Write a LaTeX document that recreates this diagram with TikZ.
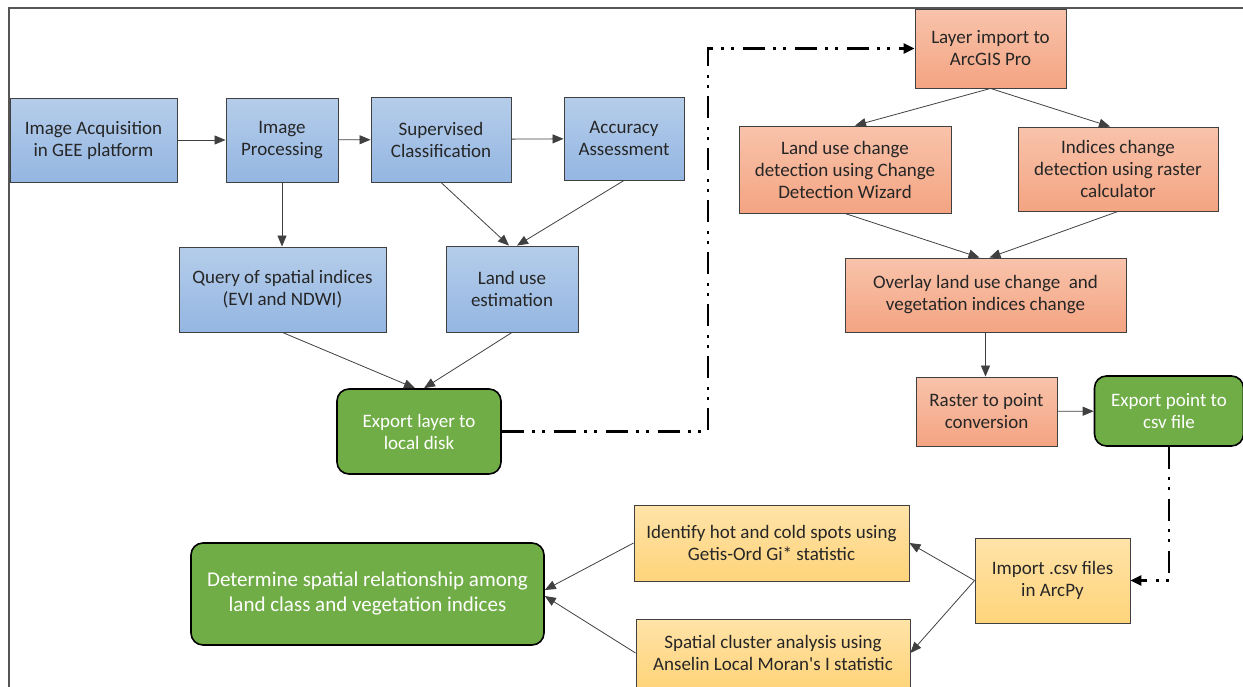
\documentclass[tikz,border=0pt]{standalone}
\usepackage{fontspec}
\setmainfont{Carlito}
\usepackage{xcolor}
\usepackage{tikz}
\usetikzlibrary{arrows.meta,positioning,calc}
\definecolor{bluetop}{HTML}{B5CDEA}
\definecolor{bluebot}{HTML}{94B6E2}
\definecolor{saltop}{HTML}{F8C3AB}
\definecolor{salbot}{HTML}{F4A482}
\definecolor{yeltop}{HTML}{FFE3A8}
\definecolor{yelbot}{HTML}{FFD47B}
\definecolor{pgreen}{HTML}{70AD47}
\definecolor{pline}{HTML}{404040}
\definecolor{pframe}{HTML}{555555}
\definecolor{ptext}{HTML}{262626}

\begin{document}
\begin{tikzpicture}[x=1pt,y=-1pt,
    box/.style={draw=pline,line width=0.9pt,align=center,inner sep=0pt,
      text=ptext,font=\fontsize{19}{22}\selectfont},
    bluebox/.style={box,top color=bluetop,bottom color=bluebot},
    salbox/.style={box,top color=saltop,bottom color=salbot},
    yelbox/.style={box,top color=yeltop,bottom color=yelbot},
    greenbox/.style={box,draw=black,line width=1.6pt,fill=pgreen,
      rounded corners=12pt,text=white},
    flow/.style={pline,line width=0.8pt,-{Triangle[length=11pt,width=9pt]}},
    dashflow/.style={black,line width=2.6pt,
      dash pattern=on 22pt off 8pt on 3pt off 7pt on 3pt off 9pt,
      -{Triangle[length=11pt,width=10pt]}}]
  \useasboundingbox (0,0) rectangle (1243,686);
  \clip (0,0) rectangle (1243,686);

  % Frame
  \draw[pframe,line width=2.6pt] (9,690) -- (9,8) -- (1245,8);

  % Image classification in GEE
  \node[bluebox,minimum width=167,minimum height=84] (acq) at (93.5,140)
    {Image Acquisition\\in GEE platform};
  \node[bluebox,minimum width=112,minimum height=84] (proc) at (282,140)
    {Image\\Processing};
  \node[bluebox,minimum width=140,minimum height=85] (sup) at (441,139.5)
    {Supervised\\Classification};
  \node[bluebox,minimum width=120,minimum height=83] (acc) at (624,138.5)
    {Accuracy\\Assessment};
  \node[bluebox,minimum width=207,minimum height=85] (query) at (282.5,289.5)
    {Query of spatial indices\\(EVI and NDWI)};
  \node[bluebox,minimum width=132,minimum height=86] (lue) at (512,289)
    {Land use\\estimation};
  \node[greenbox,minimum width=164,minimum height=85] (export) at (419,431.5)
    {Export layer to\\local disk};

  % Change detection in ArcGIS Pro
  \node[salbox,minimum width=151,minimum height=79] (limport) at (990.5,48.5)
    {Layer import to\\ArcGIS Pro};
  \node[salbox,minimum width=212,minimum height=87] (lucd) at (845,169.5)
    {Land use change\\detection using Change\\Detection Wizard};
  \node[salbox,minimum width=200,minimum height=84] (icd) at (1118,169)
    {Indices change\\detection using raster\\calculator};
  \node[salbox,minimum width=281,minimum height=74] (overlay) at (985.5,295)
    {Overlay land use change~ and\\vegetation indices change};
  \node[salbox,minimum width=141,minimum height=69] (raster) at (986.5,411.5)
    {Raster to point\\conversion};
  \node[greenbox,minimum width=149,minimum height=70] (expcsv) at (1169,411)
    {Export point to\\csv file};

  % Spatial statistics in ArcPy
  \node[yelbox,minimum width=155,minimum height=85] (import) at (1052.5,580.5)
    {Import .csv files\\in ArcPy};
  \node[yelbox,minimum width=275,minimum height=76] (hotspot) at (771.5,543)
    {Identify hot and cold spots using\\Getis-Ord Gi* statistic};
  \node[yelbox,minimum width=274,minimum height=68] (cluster) at (773,653)
    {Spatial cluster analysis using\\Anselin Local Moran\textquotesingle s I statistic};
  \node[greenbox,minimum width=353,minimum height=102,
        font=\fontsize{21}{25}\selectfont] (determine) at (367.5,594)
    {Determine spatial relationship among\\land class and vegetation indices};

  % Connectors
  \draw[flow] (acq) -- (proc);
  \draw[flow] (proc) -- (sup);
  \draw[flow] (sup) -- (acc);
  \draw[flow] (proc.south) -- (proc.south |- query.north);
  \draw[flow] (sup.south) -- ([xshift=-3pt]lue.north);
  \draw[flow] (acc.south) -- ([xshift=5pt]lue.north);
  \draw[flow] (query.south) -- ([xshift=-4pt]export.north);
  \draw[flow] (lue.south) -- ([xshift=5pt]export.north);

  \draw[flow] (limport.south) -- ([xshift=10pt]lucd.north);
  \draw[flow] (limport.south) -- ([xshift=-8pt]icd.north);
  \draw[flow] (lucd.south) -- ([xshift=-6pt]overlay.north);
  \draw[flow] (icd.south) -- ([xshift=4pt]overlay.north);
  \draw[flow] (overlay.south) -- (overlay.south |- raster.north);
  \draw[flow] (raster) -- (expcsv);

  \draw[flow] (import.west) -- (hotspot.east);
  \draw[flow] (import.west) -- (cluster.east);
  \draw[flow] (hotspot.west) -- ([yshift=4pt]determine.east);
  \draw[flow] (cluster.west) -- ([yshift=-2pt]determine.east);

  % Dash-dot links between stages
  \coordinate (bendA) at (708,431.5);
  \draw[dashflow] (export.east) -- (bendA) -- (bendA |- limport.west)
    -- (limport.west);
  \draw[dashflow] (expcsv.south) -- (expcsv.south |- import.east)
    -- (import.east);
\end{tikzpicture}
\end{document}
